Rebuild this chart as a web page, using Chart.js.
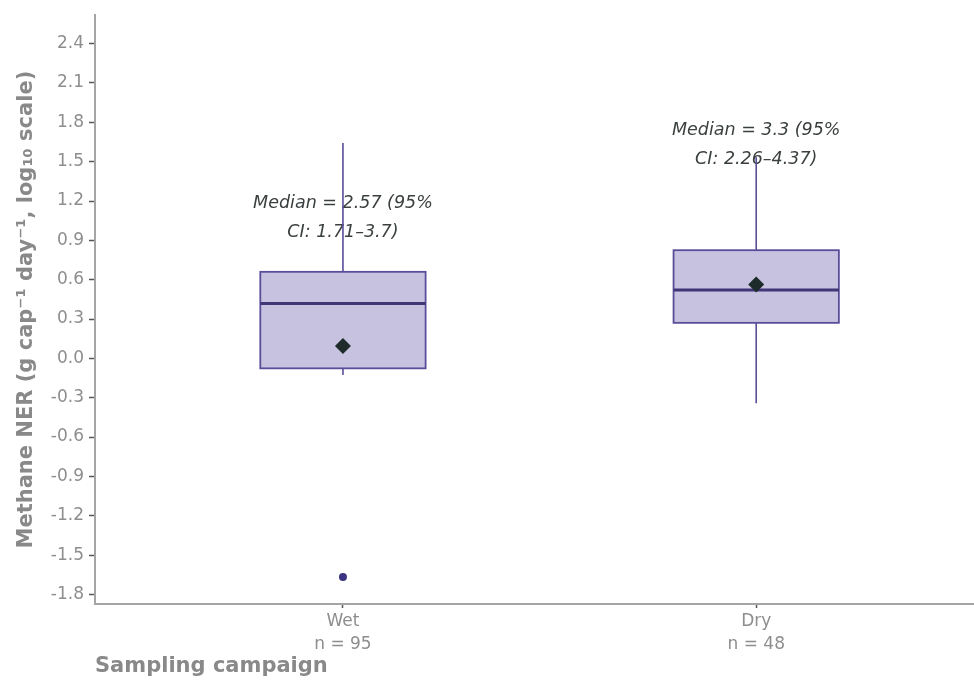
<!DOCTYPE html>
<html>
<head>
<meta charset="utf-8">
<script src="https://cdn.jsdelivr.net/npm/chart.js@4.4.1/dist/chart.umd.min.js"></script>
<style>
  html, body { margin: 0; padding: 0; background: #fff; }
  #wrap { width: 974px; height: 682px; }
</style>
</head>
<body>
<div id="wrap"><canvas id="chart" width="974" height="682"></canvas></div>
<script>
// log10 methane NER per sampling campaign
const categories = ['Wet', 'Dry'];
const sampleSizes = [95, 48];
const whiskerLow = [-0.127, -0.343];
const q1 = [-0.076, 0.271];
const medians = [0.419, 0.521];
const q3 = [0.660, 0.825];
const whiskerHigh = [1.643, 1.534];
const means = [0.094, 0.564];
const outliers = [[-1.667], []];
const medianText = ['Median = 2.57 (95%', 'Median = 3.3 (95%'];
const ciText = ['CI: 1.71–3.7)', 'CI: 2.26–4.37)'];
const noteY = [1.15, 1.70];
const yTicks = [-1.8, -1.5, -1.2, -0.9, -0.6, -0.3, 0.0, 0.3, 0.6, 0.9, 1.2, 1.5, 1.8, 2.1, 2.4];

const FONT = 'DejaVu Sans';
const BOX_HALF = 0.2;

const boxPlugin = {
  id: 'boxes',
  beforeDatasetsDraw(chart) {
    const { ctx, scales: { x, y } } = chart;
    ctx.save();

    // annotation text (whiskers are drawn over it)
    ctx.font = 'italic 17.5px "' + FONT + '"';
    ctx.fillStyle = '#3a3f3f';
    ctx.textAlign = 'center';
    ctx.textBaseline = 'alphabetic';
    categories.forEach((c, i) => {
      const px = x.getPixelForValue(i + 1);
      const py = y.getPixelForValue(noteY[i]);
      ctx.fillText(medianText[i], px, py);
      ctx.fillText(ciText[i], px, py + 29);
    });

    categories.forEach((c, i) => {
      const cx = x.getPixelForValue(i + 1);
      const left = x.getPixelForValue(i + 1 - BOX_HALF);
      const right = x.getPixelForValue(i + 1 + BOX_HALF);
      const top = y.getPixelForValue(q3[i]);
      const bottom = y.getPixelForValue(q1[i]);

      // whiskers
      ctx.strokeStyle = '#5a4e9a';
      ctx.lineWidth = 1.6;
      ctx.beginPath();
      ctx.moveTo(cx, y.getPixelForValue(whiskerHigh[i]));
      ctx.lineTo(cx, top);
      ctx.moveTo(cx, bottom);
      ctx.lineTo(cx, y.getPixelForValue(whiskerLow[i]));
      ctx.stroke();

      // box
      ctx.fillStyle = '#c7c2e0';
      ctx.fillRect(left, top, right - left, bottom - top);
      ctx.lineWidth = 1.8;
      ctx.strokeRect(left, top, right - left, bottom - top);

      // median
      const my = y.getPixelForValue(medians[i]);
      ctx.strokeStyle = '#3f3577';
      ctx.lineWidth = 3;
      ctx.beginPath();
      ctx.moveTo(left, my);
      ctx.lineTo(right, my);
      ctx.stroke();
    });
    ctx.restore();
  }
};

new Chart(document.getElementById('chart'), {
  type: 'scatter',
  data: {
    datasets: [
      {
        label: 'Mean',
        data: means.map((m, i) => ({ x: i + 1, y: m })),
        pointStyle: 'rectRot',
        pointRadius: 8,
        backgroundColor: '#1d2b2b',
        borderColor: '#1d2b2b',
        borderWidth: 0
      },
      {
        label: 'Outliers',
        data: outliers.flatMap((arr, i) => arr.map(v => ({ x: i + 1, y: v }))),
        pointStyle: 'circle',
        pointRadius: 4,
        backgroundColor: '#3b3480',
        borderWidth: 0
      }
    ]
  },
  options: {
    responsive: false,
    animation: false,
    devicePixelRatio: 1,
    layout: { autoPadding: false, padding: { top: 15, left: 0, right: 0, bottom: 0 } },
    plugins: {
      legend: { display: false },
      tooltip: { enabled: false }
    },
    scales: {
      x: {
        type: 'linear',
        min: 0.4,
        max: 2.527,
        afterBuildTicks: s => { s.ticks = categories.map((c, i) => ({ value: i + 1 })); },
        afterFit: s => { s.height = 78; },
        ticks: {
          autoSkip: false,
          maxRotation: 0,
          padding: 2,
          color: '#8e8e8e',
          font: { family: FONT, size: 17, lineHeight: 1.35 },
          callback: v => {
            const i = Math.round(v) - 1;
            return [categories[i], 'n = ' + sampleSizes[i]];
          }
        },
        grid: { display: true, drawOnChartArea: false, drawTicks: true, tickLength: 4, tickColor: '#555', tickWidth: 1.5 },
        border: { display: true, color: '#a5a5a5', width: 2 },
        title: {
          display: true,
          text: 'Sampling campaign',
          align: 'start',
          color: '#898989',
          font: { family: FONT, size: 21, weight: 'bold' },
          padding: { top: 0, bottom: 3 }
        }
      },
      y: {
        type: 'linear',
        min: -1.873,
        max: 2.617,
        afterBuildTicks: s => { s.ticks = yTicks.map(v => ({ value: v })); },
        afterFit: s => { s.width = 95; },
        ticks: {
          autoSkip: false,
          padding: 5,
          color: '#8e8e8e',
          font: { family: FONT, size: 17 },
          callback: v => v.toFixed(1)
        },
        grid: { display: true, drawOnChartArea: false, drawTicks: true, tickLength: 6, tickColor: '#555', tickWidth: 1.5 },
        border: { display: true, color: '#a5a5a5', width: 2 },
        title: {
          display: true,
          text: 'Methane NER (g cap⁻¹ day⁻¹, log₁₀ scale)',
          color: '#898989',
          font: { family: FONT, size: 21, weight: 'bold' },
          padding: { top: 14, bottom: 0 }
        }
      }
    }
  },
  plugins: [boxPlugin]
});
</script>
</body>
</html>
